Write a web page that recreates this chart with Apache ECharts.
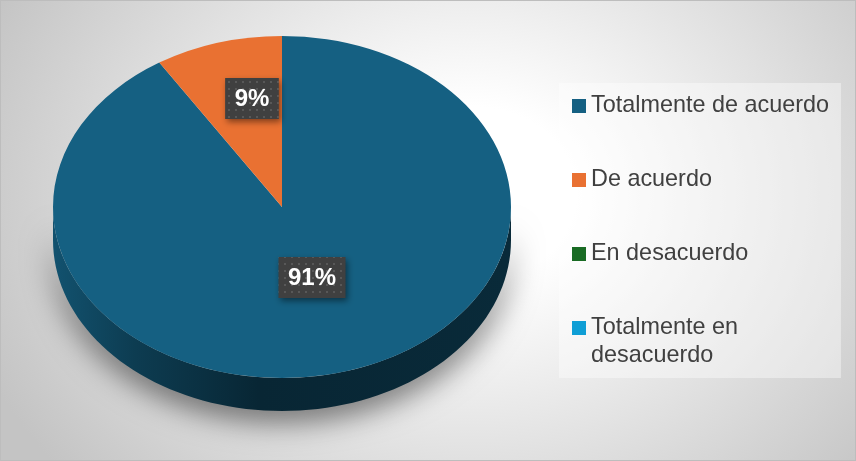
<!DOCTYPE html>
<html>
<head>
<meta charset="utf-8">
<script src="https://cdn.jsdelivr.net/npm/echarts@6/dist/echarts.min.js"></script>
<style>
  html, body { margin: 0; padding: 0; }
  #chart {
    width: 856px; height: 461px; box-sizing: border-box;
    border: 1px solid #bdbdbd;
    background: radial-gradient(ellipse 62% 95% at 55% 42%, #ffffff 0%, #ffffff 20%, #c4c4c4 100%);
  }
</style>
</head>
<body>
<div id="chart"></div>
<script>
// Survey answers (share of respondents, %)
const CATEGORIES = ['Totalmente de acuerdo', 'De acuerdo', 'En desacuerdo', 'Totalmente en desacuerdo'];
const SHARES = [91, 9, 0, 0];

// Office palette for the four answers
const COLORS = ['#156082', '#E97132', '#196B24', '#0F9ED5'];

// Tilted pie geometry: centre, horizontal/vertical radii and wall thickness
const PIE = { cx: 281, cy: 206, rx: 229, ry: 171, depth: 33 };

const FONT = '"Liberation Sans", Arial, sans-serif';
const LABEL_FONT = 'bold 24px ' + FONT;

const measureCtx = document.createElement('canvas').getContext('2d');
function textWidth(str, font) {
  measureCtx.font = font;
  return measureCtx.measureText(str).width;
}

// Small dotted tile used as the fill of the value labels
const dotTile = (function () {
  const c = document.createElement('canvas');
  c.width = 7; c.height = 7;
  const g = c.getContext('2d');
  g.fillStyle = '#404040'; g.fillRect(0, 0, 7, 7);
  g.fillStyle = '#585858'; g.fillRect(3, 3, 2, 2);
  return c;
})();

function shade(hex, k) {
  const c = echarts.color.parse(hex);
  return 'rgb(' + Math.round(c[0] * k) + ',' + Math.round(c[1] * k) + ',' + Math.round(c[2] * k) + ')';
}

function wallPolygon(s, e, color) {
  const pts = [];
  const n = 80;
  for (let j = 0; j <= n; j++) {
    const t = s + (e - s) * j / n;
    pts.push([PIE.cx + PIE.rx * Math.cos(t), PIE.cy + PIE.ry * Math.sin(t)]);
  }
  for (let j = n; j >= 0; j--) {
    const t = s + (e - s) * j / n;
    pts.push([PIE.cx + PIE.rx * Math.cos(t), PIE.cy + PIE.depth + PIE.ry * Math.sin(t)]);
  }
  const grad = new echarts.graphic.LinearGradient(PIE.cx - PIE.rx, 0, PIE.cx + PIE.rx, 0, [
    { offset: 0, color: shade(color, 0.85) },
    { offset: 0.18, color: shade(color, 0.62) },
    { offset: 0.45, color: shade(color, 0.4) },
    { offset: 1, color: shade(color, 0.44) }
  ], true);
  return {
    type: 'polygon',
    shape: { points: pts },
    style: { fill: grad, shadowBlur: 30, shadowColor: 'rgba(0,0,0,0.55)', shadowOffsetY: 10 },
    z2: 0
  };
}

function sliceRenderer(idx) {
  return function (params, api) {
    const v = api.value(0);
    if (!v) return { type: 'group', children: [] };
    const total = SHARES.reduce((a, b) => a + b, 0);
    let before = 0;
    for (let k = 0; k < idx; k++) before += SHARES[k];
    const a0 = -Math.PI / 2 + before / total * 2 * Math.PI;
    const a1 = a0 + v / total * 2 * Math.PI;
    const color = api.visual('color');
    const children = [];

    // visible front wall (lower half of the ellipse)
    [-2 * Math.PI, 0, 2 * Math.PI].forEach(function (shift) {
      const s = Math.max(a0 + shift, 0);
      const e = Math.min(a1 + shift, Math.PI);
      if (e > s) children.push(wallPolygon(s, e, color));
    });

    // top face
    children.push({
      type: 'sector',
      shape: { cx: PIE.cx, cy: PIE.cy, r: PIE.rx, r0: 0, startAngle: a0, endAngle: a1, clockwise: true },
      originX: PIE.cx, originY: PIE.cy, scaleY: PIE.ry / PIE.rx,
      style: { fill: color },
      z2: 10
    });

    // value label
    const share = v / total;
    const mid = (a0 + a1) / 2;
    const fx = 0.47, fy = share < 0.25 ? 0.66 : 0.43;
    const lx = PIE.cx + fx * PIE.rx * Math.cos(mid);
    const ly = PIE.cy + fy * PIE.ry * Math.sin(mid);
    const txt = Math.round(share * 100) + '%';
    const w = textWidth(txt, LABEL_FONT) + 19;
    const h = 41;
    children.push({
      type: 'rect',
      shape: { x: lx - w / 2, y: ly - h / 2, width: w, height: h },
      style: {
        fill: { image: dotTile, repeat: 'repeat' },
        shadowBlur: 6, shadowOffsetX: 2, shadowOffsetY: 3, shadowColor: 'rgba(0,0,0,0.45)'
      },
      z2: 20
    });
    children.push({
      type: 'text',
      style: {
        text: txt, x: lx, y: ly + 1, align: 'center', verticalAlign: 'middle',
        fill: '#ffffff', font: LABEL_FONT
      },
      z2: 21
    });
    return { type: 'group', children: children };
  };
}

const legendText = { fontFamily: FONT, fontSize: 23.4, color: '#404040', lineHeight: 28 };

const chart = echarts.init(document.getElementById('chart'), null, { renderer: 'canvas' });
chart.setOption({
  backgroundColor: 'transparent',
  animation: false,
  legend: [
    {
      data: CATEGORIES.slice(0, 3),
      orient: 'vertical', left: 558, top: 82,
      padding: [9, 12, 110, 13],
      itemWidth: 14, itemHeight: 14, itemGap: 46,
      icon: 'rect', selectedMode: false,
      backgroundColor: 'rgba(255,255,255,0.4)',
      textStyle: legendText
    },
    {
      // wrapped entry: a leading empty line keeps the marker beside the first line
      data: [CATEGORIES[3]],
      formatter: function (name) { return '\n' + name; },
      orient: 'vertical', left: 571, top: 285,
      padding: 0,
      itemWidth: 14, itemHeight: 14,
      icon: 'rect', selectedMode: false, z: 5,
      textStyle: Object.assign({ width: 240, overflow: 'break' }, legendText)
    }
  ],
  series: CATEGORIES.map(function (name, i) {
    return {
      type: 'custom',
      name: name,
      coordinateSystem: 'none',
      itemStyle: { color: COLORS[i] },
      data: [SHARES[i]],
      renderItem: sliceRenderer(i)
    };
  })
});
</script>
</body>
</html>
